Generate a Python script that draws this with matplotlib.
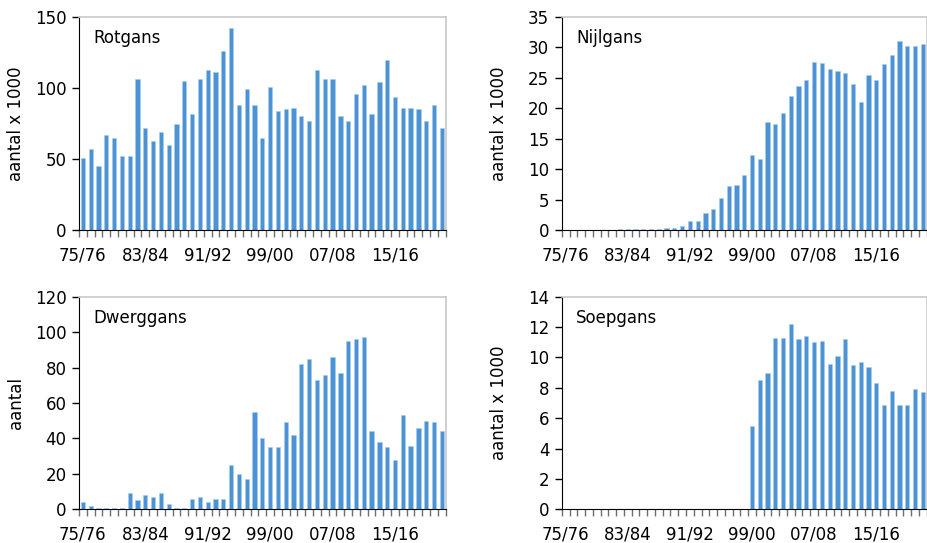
import numpy as np
import matplotlib.pyplot as plt

# seizoenen 75/76 t/m 21/22
seizoenen = [f"{j % 100:02d}/{(j + 1) % 100:02d}" for j in range(1975, 2022)]
labels_om_de_8 = ["75/76", "83/84", "91/92", "99/00", "07/08", "15/16"]

rotgans = [51, 57, 45, 67, 65, 52, 52, 106, 72, 63, 69, 60, 75, 105, 82, 106,
           113, 111, 126, 142, 88, 99, 88, 65, 101, 84, 85, 86, 80, 77, 113, 106,
           106, 80, 77, 96, 102, 82, 104, 120, 94, 86, 86, 85, 77, 88, 72]

nijlgans = [0, 0, 0, 0, 0, 0, 0,
            0.1, 0.15, 0.15, 0.2, 0.2, 0.2, 0.35, 0.4, 0.7, 1.5, 1.4, 2.8, 3.5,
            5.2, 7.3, 7.4, 9.0, 12.3, 11.7, 17.7, 17.5, 19.2, 22.0, 23.6, 24.6,
            27.6, 27.4, 26.5, 26.2, 25.8, 24.0, 21.0, 25.4, 24.6, 27.3, 28.7,
            31.1, 30.3, 30.3, 30.6]

dwerggans = [4, 2, 1, 1, 1, 1, 9, 5, 8, 7, 9, 3, 1, 1, 6, 7, 4, 6, 6, 25,
             20, 17, 55, 40, 35, 35, 49, 42, 82, 85, 73, 76, 86, 77, 95, 96,
             97, 44, 38, 35, 28, 53, 36, 46, 50, 49, 44]

soepgans = [0] * 24 + [5.5, 8.5, 9.0, 11.3, 11.3, 12.2, 11.2, 11.4, 11.0, 11.1,
                       9.6, 10.1, 11.2, 9.5, 9.7, 9.4, 8.3, 6.9, 7.8, 6.9, 6.9,
                       7.9, 7.7]

panelen = [
    ("Rotgans", rotgans, "aantal x 1000", 150, 50, [0.0852, 0.5764, 0.3956, 0.3923]),
    ("Nijlgans", nijlgans, "aantal x 1000", 35, 5, [0.606, 0.5764, 0.3937, 0.3923]),
    ("Dwerggans", dwerggans, "aantal", 120, 20, [0.0852, 0.0621, 0.3956, 0.3915]),
    ("Soepgans", soepgans, "aantal x 1000", 14, 2, [0.606, 0.0621, 0.3937, 0.3915]),
]

kleur = "#4b93d5"
fig = plt.figure(figsize=(9.27, 5.43), dpi=100)

for naam, waarden, ylab, ymax, stap, pos in panelen:
    ax = fig.add_axes(pos)
    x = np.arange(len(seizoenen))
    ax.bar(x, waarden, width=0.55, color=kleur, edgecolor="#a9cdee", linewidth=0.4)
    ax.set_xlim(-0.5, len(seizoenen) - 0.5)
    ax.set_ylim(0, ymax)
    ax.set_yticks(np.arange(0, ymax + 0.01, stap))
    ax.tick_params(axis="y", length=5, width=1, labelsize=12, pad=4, color="black")
    # labels om de 8 seizoenen, streepjes tussen de categorieen
    ax.set_xticks([seizoenen.index(s) for s in labels_om_de_8])
    ax.set_xticklabels(labels_om_de_8)
    ax.tick_params(axis="x", which="major", length=0, labelsize=12, pad=12)
    ax.set_xticks(np.arange(-0.5, len(seizoenen)), minor=True)
    ax.tick_params(axis="x", which="minor", length=5, width=1, color="#707070")
    ax.spines["left"].set_color("black")
    ax.spines["bottom"].set_color("black")
    ax.spines["top"].set_color("#c8c8c8")
    ax.spines["right"].set_color("#c8c8c8")
    ax.spines["top"].set_linewidth(1.2)
    ax.spines["right"].set_linewidth(1.2)
    ax.set_ylabel(ylab, fontsize=12, va="center")
    ax.yaxis.set_label_coords(-63 / (pos[2] * 927), 0.5)
    ax.text(0.04, 0.9, naam, transform=ax.transAxes, fontsize=12, va="center")

fig.savefig("out.png", dpi=100)
